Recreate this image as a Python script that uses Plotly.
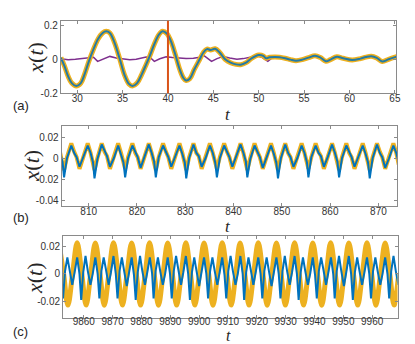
import plotly.graph_objects as go

# ---------------- Panel (a) : transient ----------------
t_a = [28.2, 28.6, 29.0, 29.4, 29.9, 30.4, 30.8, 31.3, 31.8, 32.3, 32.8, 33.2, 33.6, 34.1,
       34.7, 35.2, 35.7, 36.1, 36.6, 37.1, 37.6, 38.0, 38.5, 39.0, 39.4, 39.9, 40.3, 40.8,
       41.3, 41.7, 42.0, 42.4, 42.9, 43.5, 43.9, 44.3, 44.7, 45.2, 45.7, 46.3, 46.9, 47.5,
       48.0, 48.6, 49.2, 50.0, 50.5, 50.8, 51.2, 51.8, 52.3, 52.9, 53.5, 54.1, 54.8, 55.5,
       56.2, 56.8, 57.4, 57.9, 58.6, 59.3, 60.3, 61.2, 61.8, 62.4, 63.0, 63.6, 64.3, 65.2]
x_a = [0.010, -0.040, -0.100, -0.140, -0.157, -0.140, -0.090, -0.010, 0.060, 0.120, 0.155, 0.165, 0.155, 0.100,
       0.000, -0.090, -0.145, -0.157, -0.140, -0.090, -0.030, 0.020, 0.090, 0.145, 0.165, 0.150, 0.110, 0.030,
       -0.060, -0.110, -0.125, -0.115, -0.060, 0.000, 0.040, 0.060, 0.055, 0.062, 0.040, 0.000, -0.020, -0.030,
       -0.032, -0.020, 0.005, 0.025, 0.020, 0.006, 0.012, 0.014, 0.012, 0.006, -0.002, -0.008, -0.002, 0.010,
       0.021, 0.010, -0.012, -0.002, 0.015, 0.006, -0.004, 0.004, 0.013, 0.018, 0.008, -0.013, 0.000, 0.016]

t_purple = [28.2, 29.0, 29.8, 30.5, 31.2, 31.8, 32.25, 32.8, 33.6, 34.3, 35.1, 35.8, 36.5, 37.0,
            37.6, 38.0, 38.5, 39.1, 39.8, 40.5, 41.2, 42.0, 42.8, 43.5, 43.9, 44.3, 44.8, 45.4,
            46.1, 46.8, 47.6, 48.3, 49.0, 49.8, 50.4, 51.0, 51.5]
x_purple = [0.003, -0.003, 0.000, 0.005, 0.010, 0.012, -0.012, 0.000, 0.017, 0.008, 0.002, -0.002, 0.000, 0.005,
            0.013, 0.012, -0.012, 0.003, 0.015, 0.010, 0.006, 0.004, 0.006, 0.012, 0.024, 0.010, -0.012, 0.004,
            0.017, 0.008, 0.000, 0.004, 0.010, 0.020, 0.010, -0.012, 0.010]

event_time = 40

# ---------------- Panel (b) ----------------
t_b = [803.5, 804.1, 804.6,
       804.9, 805.5, 806.4, 807.0, 807.5, 808.1, 808.9, 809.8, 810.4, 810.9,
       811.2, 811.8, 812.7, 813.3, 813.8, 814.4, 815.2, 816.1, 816.7, 817.2,
       817.55, 818.15, 819.05, 819.65, 820.15, 820.75, 821.55, 822.45, 823.05, 823.55,
       823.9, 824.5, 825.4, 826.0, 826.5, 827.1, 827.9, 828.8, 829.4, 829.9,
       830.2, 830.8, 831.7, 832.3, 832.8, 833.4, 834.2, 835.1, 835.7, 836.2,
       836.55, 837.15, 838.05, 838.65, 839.15, 839.75, 840.55, 841.45, 842.05, 842.55,
       842.85, 843.45, 844.35, 844.95, 845.45, 846.05, 846.85, 847.75, 848.35, 848.85,
       849.2, 849.8, 850.7, 851.3, 851.8, 852.4, 853.2, 854.1, 854.7, 855.2,
       855.5, 856.1, 857.0, 857.6, 858.1, 858.7, 859.5, 860.4, 861.0, 861.5,
       861.85, 862.45, 863.35, 863.95, 864.45, 865.05, 865.85, 866.75, 867.35, 867.85,
       868.2, 868.8, 869.7, 870.3, 870.8, 871.4, 872.2, 873.1, 873.7, 874.2]
blue_b = [0.012, 0.005, -0.004,
          -0.018, 0.000, 0.012, 0.005, 0.001, -0.008, 0.001, 0.012, 0.005, -0.004,
          -0.019, -0.001, 0.013, 0.006, 0.002, -0.008, 0.000, 0.012, 0.004, -0.004,
          -0.018, 0.000, 0.012, 0.005, 0.001, -0.009, 0.001, 0.013, 0.005, -0.003,
          -0.018, 0.001, 0.012, 0.006, 0.001, -0.008, 0.001, 0.012, 0.004, -0.004,
          -0.019, 0.000, 0.013, 0.005, 0.002, -0.008, 0.000, 0.012, 0.005, -0.004,
          -0.018, 0.000, 0.012, 0.005, 0.001, -0.008, 0.001, 0.013, 0.005, -0.003,
          -0.018, -0.001, 0.012, 0.006, 0.001, -0.009, 0.001, 0.012, 0.004, -0.004,
          -0.019, 0.000, 0.013, 0.005, 0.001, -0.008, 0.000, 0.012, 0.005, -0.004,
          -0.018, 0.001, 0.012, 0.005, 0.002, -0.008, 0.001, 0.013, 0.005, -0.003,
          -0.018, 0.000, 0.012, 0.006, 0.001, -0.008, 0.001, 0.012, 0.004, -0.004,
          -0.019, 0.000, 0.013, 0.005, 0.001, -0.009, 0.000, 0.012, 0.005, -0.004]
yellow_b = [0.014, 0.005, -0.006,
            -0.011, 0.001, 0.014, 0.006, 0.001, -0.010, 0.001, 0.014, 0.005, -0.006,
            -0.011, 0.000, 0.014, 0.006, 0.002, -0.010, 0.001, 0.014, 0.005, -0.006,
            -0.010, 0.001, 0.014, 0.005, 0.001, -0.010, 0.001, 0.014, 0.005, -0.005,
            -0.011, 0.001, 0.014, 0.006, 0.001, -0.010, 0.001, 0.014, 0.005, -0.006,
            -0.011, 0.001, 0.014, 0.005, 0.002, -0.010, 0.000, 0.014, 0.005, -0.006,
            -0.010, 0.001, 0.014, 0.006, 0.001, -0.010, 0.001, 0.014, 0.005, -0.005,
            -0.011, 0.000, 0.014, 0.006, 0.001, -0.010, 0.001, 0.014, 0.005, -0.006,
            -0.011, 0.001, 0.014, 0.005, 0.001, -0.010, 0.001, 0.014, 0.005, -0.006,
            -0.010, 0.001, 0.014, 0.006, 0.002, -0.010, 0.001, 0.014, 0.005, -0.005,
            -0.011, 0.001, 0.014, 0.005, 0.001, -0.010, 0.000, 0.014, 0.005, -0.006,
            -0.011, 0.001, 0.014, 0.006, 0.001, -0.010, 0.001, 0.014, 0.005, -0.006]

# ---------------- Panel (c) ----------------
t_c_blue = [9851.4, 9852.2,
            9852.8, 9853.5, 9854.3, 9855.1, 9856.0, 9856.8, 9857.7, 9858.5,
            9859.1, 9859.8, 9860.6, 9861.4, 9862.3, 9863.1, 9864.0, 9864.8,
            9865.4, 9866.1, 9866.9, 9867.7, 9868.6, 9869.4, 9870.3, 9871.1,
            9871.7, 9872.4, 9873.2, 9874.0, 9874.9, 9875.7, 9876.6, 9877.4,
            9878.0, 9878.7, 9879.5, 9880.3, 9881.2, 9882.0, 9882.9, 9883.7,
            9884.2, 9884.9, 9885.7, 9886.5, 9887.4, 9888.2, 9889.1, 9889.9,
            9890.5, 9891.2, 9892.0, 9892.8, 9893.7, 9894.5, 9895.4, 9896.2,
            9896.8, 9897.5, 9898.3, 9899.1, 9900.0, 9900.8, 9901.7, 9902.5,
            9903.1, 9903.8, 9904.6, 9905.4, 9906.3, 9907.1, 9908.0, 9908.8,
            9909.4, 9910.1, 9910.9, 9911.7, 9912.6, 9913.4, 9914.3, 9915.1,
            9915.6, 9916.3, 9917.1, 9917.9, 9918.8, 9919.6, 9920.5, 9921.3,
            9921.9, 9922.6, 9923.4, 9924.2, 9925.1, 9925.9, 9926.8, 9927.6,
            9928.2, 9928.9, 9929.7, 9930.5, 9931.4, 9932.2, 9933.1, 9933.9,
            9934.5, 9935.2, 9936.0, 9936.8, 9937.7, 9938.5, 9939.4, 9940.2,
            9940.8, 9941.5, 9942.3, 9943.1, 9944.0, 9944.8, 9945.7, 9946.5,
            9947.0, 9947.7, 9948.5, 9949.3, 9950.2, 9951.0, 9951.9, 9952.7,
            9953.3, 9954.0, 9954.8, 9955.6, 9956.5, 9957.3, 9958.2, 9959.0,
            9959.6, 9960.3, 9961.1, 9961.9, 9962.8, 9963.6, 9964.5, 9965.3,
            9965.9, 9966.6, 9967.4, 9968.2, 9969.1]
x_c_blue = [0.012, 0.000,
            -0.018, 0.002, 0.012, 0.002, -0.008, 0.001, 0.012, 0.000,
            -0.019, 0.001, 0.013, 0.002, -0.008, 0.000, 0.012, 0.000,
            -0.018, 0.002, 0.012, 0.003, -0.008, 0.001, 0.013, 0.000,
            -0.018, 0.002, 0.012, 0.002, -0.009, 0.001, 0.012, -0.001,
            -0.019, 0.001, 0.013, 0.002, -0.008, 0.001, 0.012, 0.000,
            -0.018, 0.002, 0.012, 0.002, -0.008, 0.000, 0.012, 0.000,
            -0.018, 0.002, 0.013, 0.003, -0.008, 0.001, 0.013, 0.000,
            -0.019, 0.001, 0.012, 0.002, -0.009, 0.001, 0.012, 0.000,
            -0.018, 0.002, 0.012, 0.002, -0.008, 0.001, 0.012, -0.001,
            -0.018, 0.002, 0.013, 0.002, -0.008, 0.000, 0.013, 0.000,
            -0.019, 0.001, 0.012, 0.003, -0.008, 0.001, 0.012, 0.000,
            -0.018, 0.002, 0.012, 0.002, -0.009, 0.001, 0.012, 0.000,
            -0.018, 0.002, 0.013, 0.002, -0.008, 0.001, 0.013, 0.000,
            -0.019, 0.001, 0.012, 0.002, -0.008, 0.000, 0.012, -0.001,
            -0.018, 0.002, 0.012, 0.003, -0.008, 0.001, 0.012, 0.000,
            -0.018, 0.002, 0.013, 0.002, -0.009, 0.001, 0.013, 0.000,
            -0.019, 0.001, 0.012, 0.002, -0.008, 0.001, 0.012, 0.000,
            -0.018, 0.002, 0.012, 0.002, -0.008, 0.000, 0.012, 0.000,
            -0.018, 0.002, 0.013, 0.002, -0.008]
t_c_yellow = [9851.4, 9853.0, 9854.5, 9856.1,
              9857.7, 9859.3, 9860.8, 9862.4,
              9864.0, 9865.6, 9867.1, 9868.7,
              9870.3, 9871.9, 9873.4, 9875.0,
              9876.6, 9878.2, 9879.7, 9881.3,
              9882.8, 9884.4, 9885.9, 9887.5,
              9889.1, 9890.7, 9892.2, 9893.8,
              9895.4, 9897.0, 9898.5, 9900.1,
              9901.7, 9903.3, 9904.8, 9906.4,
              9908.0, 9909.6, 9911.1, 9912.7,
              9914.2, 9915.8, 9917.3, 9918.9,
              9920.5, 9922.1, 9923.6, 9925.2,
              9926.8, 9928.4, 9929.9, 9931.5,
              9933.1, 9934.7, 9936.2, 9937.8,
              9939.4, 9941.0, 9942.5, 9944.1,
              9945.6, 9947.2, 9948.7, 9950.3,
              9951.9, 9953.5, 9955.0, 9956.6,
              9958.2, 9959.8, 9961.3, 9962.9,
              9964.5, 9966.1, 9967.6, 9969.2]
x_c_yellow = [0.0225, 0.0, -0.0228, 0.0,
              0.0226, 0.0, -0.0228, 0.0,
              0.0225, 0.0, -0.0229, 0.0,
              0.0226, 0.0, -0.0228, 0.0,
              0.0225, 0.0, -0.0228, 0.0,
              0.0226, 0.0, -0.0229, 0.0,
              0.0225, 0.0, -0.0228, 0.0,
              0.0226, 0.0, -0.0228, 0.0,
              0.0225, 0.0, -0.0229, 0.0,
              0.0226, 0.0, -0.0228, 0.0,
              0.0225, 0.0, -0.0228, 0.0,
              0.0226, 0.0, -0.0229, 0.0,
              0.0225, 0.0, -0.0228, 0.0,
              0.0226, 0.0, -0.0228, 0.0,
              0.0225, 0.0, -0.0229, 0.0,
              0.0226, 0.0, -0.0228, 0.0,
              0.0225, 0.0, -0.0228, 0.0,
              0.0226, 0.0, -0.0229, 0.0,
              0.0225, 0.0, -0.0228, 0.0]

# tick labels
xt_a = [30, 35, 40, 45, 50, 55, 60, 65]
yt_a = [-0.2, 0, 0.2]
yt_a_text = ["-0.2", "0", "0.2"]
xt_b = [810, 820, 830, 840, 850, 860, 870]
yt_b = [-0.04, -0.02, 0, 0.02]
yt_b_text = ["-0.04", "-0.02", "0", "0.02"]
xt_c = [9860, 9870, 9880, 9890, 9900, 9910, 9920, 9930, 9940, 9950, 9960]
xt_c_text = ["9860", "9870", "9880", "9890", "9900", "9910", "9920", "9930", "9940", "9950", "9960"]
yt_c = [-0.02, 0, 0.02]
yt_c_text = ["-0.02", "0", "0.02"]

YELLOW = "#EDB120"
BLUE = "#0072BD"
PURPLE = "#7E2F8E"
RED = "#D95319"

W, H = 415, 344


def dx(l, r):
    return [l / W, r / W]


def dy(top, bot):
    return [1 - bot / H, 1 - top / H]


fig = go.Figure()

# (a)
fig.add_trace(go.Scatter(x=t_purple, y=x_purple, mode="lines", line=dict(color=PURPLE, width=1.5),
                         xaxis="x", yaxis="y", showlegend=False))
fig.add_trace(go.Scatter(x=t_a, y=x_a, mode="lines", line=dict(color=YELLOW, width=5, shape="spline"),
                         xaxis="x", yaxis="y", showlegend=False))
fig.add_trace(go.Scatter(x=t_a, y=x_a, mode="lines", line=dict(color=BLUE, width=2, shape="spline"),
                         opacity=0.85, xaxis="x", yaxis="y", showlegend=False))
# (b)
fig.add_trace(go.Scatter(x=t_b, y=yellow_b, mode="lines", line=dict(color=YELLOW, width=4),
                         xaxis="x2", yaxis="y2", showlegend=False))
fig.add_trace(go.Scatter(x=t_b, y=blue_b, mode="lines", line=dict(color=BLUE, width=2),
                         xaxis="x2", yaxis="y2", showlegend=False))
# (c)
fig.add_trace(go.Scatter(x=t_c_yellow, y=x_c_yellow, mode="lines",
                         line=dict(color=YELLOW, width=5, shape="spline"),
                         xaxis="x3", yaxis="y3", showlegend=False))
fig.add_trace(go.Scatter(x=t_c_blue, y=x_c_blue, mode="lines", line=dict(color=BLUE, width=2),
                         xaxis="x3", yaxis="y3", showlegend=False))

fig.add_shape(type="line", xref="x", yref="y domain", x0=event_time, x1=event_time, y0=0, y1=1,
              line=dict(color=RED, width=2))

tickfont = dict(family="Liberation Sans, Arial", size=10, color="#333333")
axcommon = dict(showgrid=False, zeroline=False, showline=True, linecolor="#8a8a8a", linewidth=1,
                mirror="ticks", ticks="inside", ticklen=3, tickcolor="#8a8a8a", tickfont=tickfont)
xcommon = dict(ticklabelstandoff=-4, **axcommon)
xcommon_c = dict(ticklabelstandoff=-6, **axcommon)

fig.update_layout(
    width=W, height=H, margin=dict(l=0, r=0, t=0, b=0),
    paper_bgcolor="white", plot_bgcolor="white",
    xaxis=dict(domain=dx(53.5, 393), range=[28.2, 65.15], tickvals=xt_a, anchor="y", **xcommon),
    yaxis=dict(domain=dy(12, 86), range=[-0.2, 0.227], tickvals=yt_a, ticktext=yt_a_text, anchor="x", **axcommon),
    xaxis2=dict(domain=dx(54.3, 394), range=[804.4, 873.9], tickvals=xt_b, anchor="y2", **xcommon),
    yaxis2=dict(domain=dy(119.3, 200.7), range=[-0.0446, 0.0305], tickvals=yt_b, ticktext=yt_b_text,
                anchor="x2", **axcommon),
    xaxis3=dict(domain=dx(55.7, 394.3), range=[9852.8, 9968.8], tickvals=xt_c, ticktext=xt_c_text,
                anchor="y3", **xcommon_c),
    yaxis3=dict(domain=dy(231.7, 315), range=[-0.0319, 0.0276], tickvals=yt_c, ticktext=yt_c_text,
                anchor="x3", **axcommon),
)

serif = "Liberation Serif, DejaVu Serif, serif"
ann = []
for (xc, yc, fs) in [(223, 107, 17), (223, 222, 17), (223, 333, 16)]:
    ann.append(dict(text="<i>t</i>", x=xc / W, y=1 - yc / H, xref="paper", yref="paper",
                    showarrow=False, font=dict(family=serif, size=fs, color="#262626"),
                    height=12, xanchor="center", yanchor="middle"))
for (xc, yc) in [(28, 50), (24, 160), (27, 275)]:
    ann.append(dict(text="<i>x</i>(<i>t</i>)", x=xc / W, y=1 - yc / H, xref="paper", yref="paper",
                    showarrow=False, textangle=-90, font=dict(family=serif, size=22, color="#262626"),
                    xanchor="center", yanchor="middle"))
for (lab, xc, yc) in [("(a)", 13, 98), ("(b)", 13, 213), ("(c)", 13, 329)]:
    ann.append(dict(text=lab, x=xc / W, y=1 - yc / H, xref="paper", yref="paper",
                    showarrow=False, font=dict(family="Liberation Sans, Arial", size=13, color="#262626"),
                    xanchor="center", yanchor="middle"))
fig.update_layout(annotations=ann)

fig.write_html("out.html")
